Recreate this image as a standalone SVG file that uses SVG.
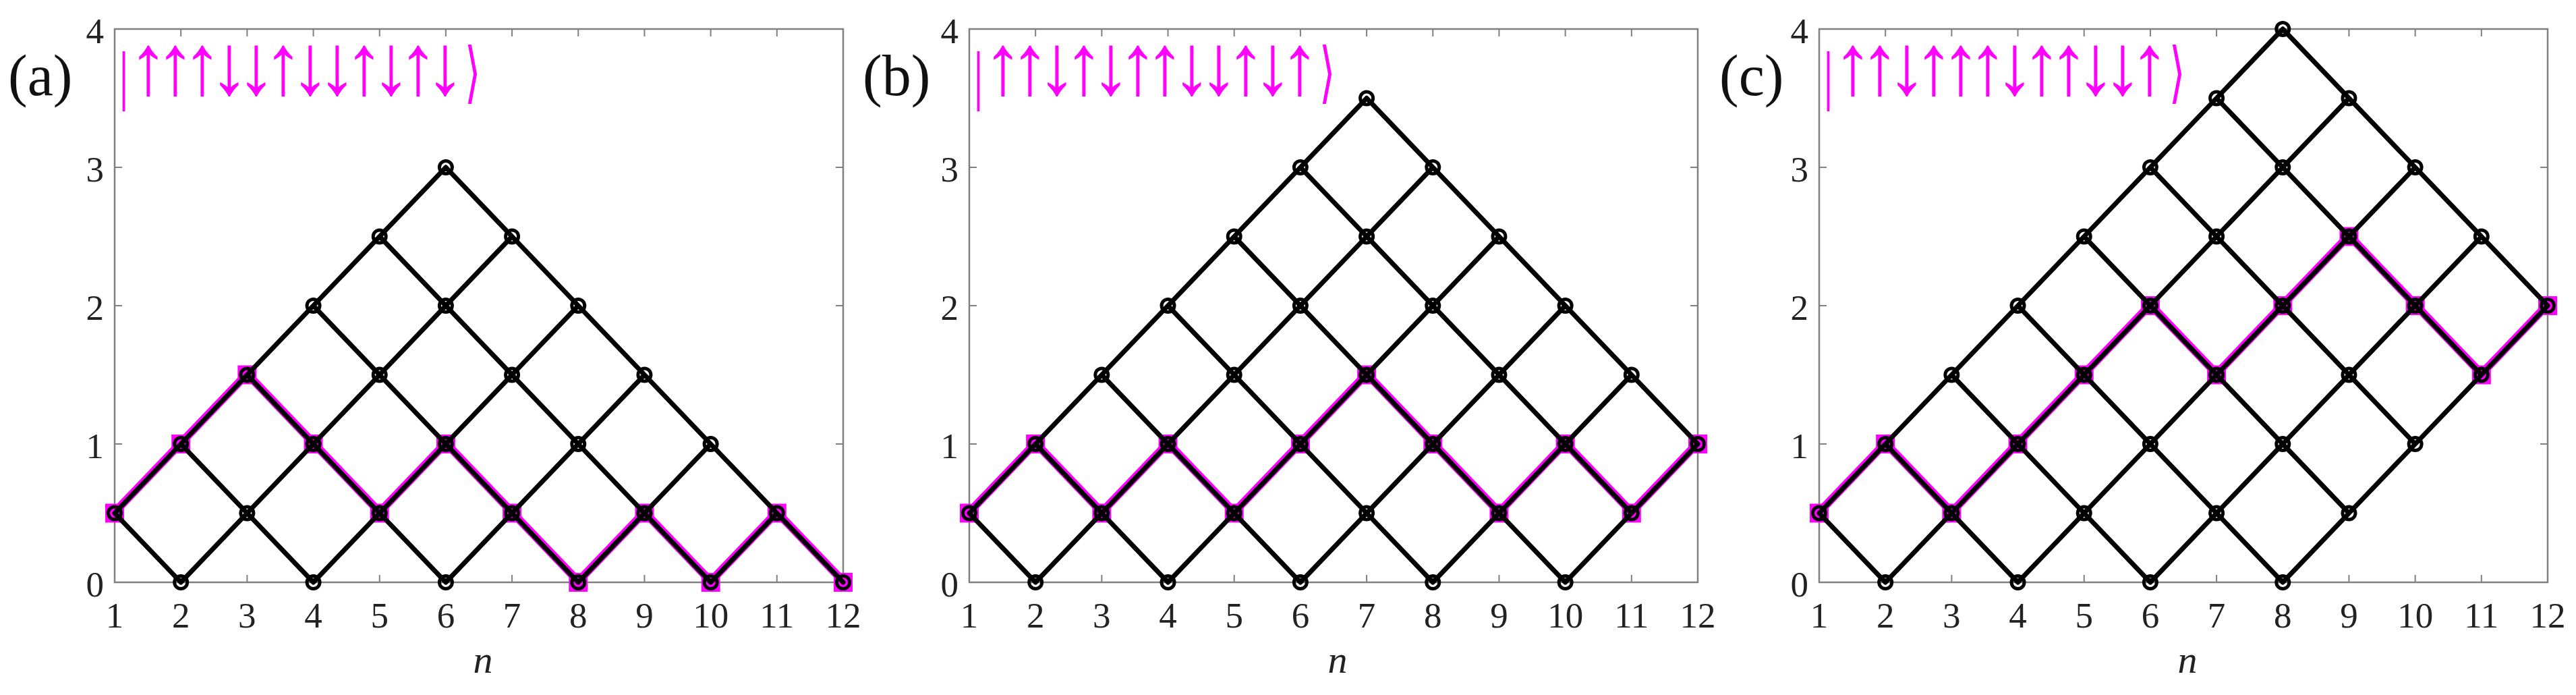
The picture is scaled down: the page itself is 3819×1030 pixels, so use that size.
<svg xmlns="http://www.w3.org/2000/svg" xmlns:xlink="http://www.w3.org/1999/xlink" width="3819" height="1030" viewBox="0 0 3819 1030">
<style>
.ax{fill:none;stroke:#808080;stroke-width:2.5}
.tk{fill:none;stroke:#808080;stroke-width:2}
.ed{fill:none;stroke:#000;stroke-width:7;stroke-linecap:round;stroke-linejoin:round}
.mg{fill:none;stroke:#f0f;stroke-width:12;stroke-linejoin:miter}
.tl{font-family:"Liberation Serif",serif;font-size:53px;fill:#222}
.nl{font-family:"Liberation Serif",serif;font-size:58px;font-style:italic;fill:#222}
.pl{font-family:"Liberation Serif",serif;font-size:86px;fill:#111}
.ket{font-family:"Liberation Serif","DejaVu Serif",serif;font-size:116px;fill:#f0f}
.bar{font-family:"Liberation Serif",serif;font-size:75px;fill:#f0f}
.ang{font-family:"DejaVu Sans",sans-serif;font-size:60px;fill:#f0f}
</style>
<defs>
<circle id="o" r="9.5" fill="none" stroke="#000" stroke-width="5"/>
<rect id="sq" x="-14" y="-14" width="28" height="28" fill="#f0f"/>
<g id="axfrm">
<rect class="ax" x="0" y="43" width="1080" height="820"/>
<path class="tk" d="M98.18 863v-11M196.36 863v-11M294.55 863v-11M392.73 863v-11M490.91 863v-11M589.09 863v-11M687.27 863v-11M785.45 863v-11M883.64 863v-11M981.82 863v-11M98.18 43v11M196.36 43v11M294.55 43v11M392.73 43v11M490.91 43v11M589.09 43v11M687.27 43v11M785.45 43v11M883.64 43v11M981.82 43v11M0 658h11M0 453h11M0 248h11M1080 658h-11M1080 453h-11M1080 248h-11"/>
<g class="tl" text-anchor="end">
<text x="-16" y="884">0</text><text x="-16" y="679">1</text><text x="-16" y="474">2</text><text x="-16" y="269">3</text><text x="-16" y="64">4</text>
</g>
<g class="tl" text-anchor="middle">
<text x="0" y="930">1</text><text x="98.18" y="930">2</text><text x="196.36" y="930">3</text><text x="294.55" y="930">4</text><text x="392.73" y="930">5</text><text x="490.91" y="930">6</text><text x="589.09" y="930">7</text><text x="687.27" y="930">8</text><text x="785.45" y="930">9</text><text x="883.64" y="930">10</text><text x="981.82" y="930">11</text><text x="1080" y="930">12</text>
</g>
<text class="nl" x="546" y="997" text-anchor="middle">n</text>
</g>
</defs>

<!-- Panel (a) -->
<g id="panel-a" transform="translate(170,0)">
<use href="#axfrm"/>
<text id="label-a" class="pl" x="-158" y="141">(a)</text>
<g id="ket-a">
<text class="bar" transform="translate(21,144) scale(1,1.3)" text-anchor="end">|</text>
<text class="ket" transform="translate(0,139) scale(1,1.1)" x="50 90 130 170 210 250 290 330 370 410 450 490" y="0" text-anchor="middle">↑↑↑↓↓↑↓↓↑↓↑↓</text>
<text class="ang" transform="translate(519,141) scale(1,1.65)">⟩</text>
</g>
<g id="path-a">
<path class="mg" transform="translate(0,-1.5)" d="M0 760.5L98.18 658L196.36 555.5L294.55 658L392.73 760.5L490.91 658L589.09 760.5L687.27 863L785.45 760.5L883.64 863L981.82 760.5L1080 863"/>
<use href="#sq" x="0" y="760.5"/><use href="#sq" x="98.18" y="658"/><use href="#sq" x="196.36" y="555.5"/><use href="#sq" x="294.55" y="658"/><use href="#sq" x="392.73" y="760.5"/><use href="#sq" x="490.91" y="658"/><use href="#sq" x="589.09" y="760.5"/><use href="#sq" x="687.27" y="863"/><use href="#sq" x="785.45" y="760.5"/><use href="#sq" x="883.64" y="863"/><use href="#sq" x="981.82" y="760.5"/><use href="#sq" x="1080" y="863"/>
</g>
<g id="connectors-a">
<path class="ed" d="M0 760.5L490.91 248M98.18 863L589.09 350.5M294.55 863L687.27 453M490.91 863L785.45 555.5M687.27 863L883.64 658M883.64 863L981.82 760.5M0 760.5L98.18 863M98.18 658L294.55 863M196.36 555.5L490.91 863M294.55 453L687.27 863M392.73 350.5L883.64 863M490.91 248L1080 863"/>
</g>
<g id="nodes-a">
<g id="a-1-05"><use href="#o" x="0" y="760.5"/></g>
<g id="a-2-0"><use href="#o" x="98.18" y="863"/></g>
<g id="a-2-1"><use href="#o" x="98.18" y="658"/></g>
<g id="a-3-05"><use href="#o" x="196.36" y="760.5"/></g>
<g id="a-3-15"><use href="#o" x="196.36" y="555.5"/></g>
<g id="a-4-0"><use href="#o" x="294.55" y="863"/></g>
<g id="a-4-1"><use href="#o" x="294.55" y="658"/></g>
<g id="a-4-2"><use href="#o" x="294.55" y="453"/></g>
<g id="a-5-05"><use href="#o" x="392.73" y="760.5"/></g>
<g id="a-5-15"><use href="#o" x="392.73" y="555.5"/></g>
<g id="a-5-25"><use href="#o" x="392.73" y="350.5"/></g>
<g id="a-6-0"><use href="#o" x="490.91" y="863"/></g>
<g id="a-6-1"><use href="#o" x="490.91" y="658"/></g>
<g id="a-6-2"><use href="#o" x="490.91" y="453"/></g>
<g id="a-6-3"><use href="#o" x="490.91" y="248"/></g>
<g id="a-7-05"><use href="#o" x="589.09" y="760.5"/></g>
<g id="a-7-15"><use href="#o" x="589.09" y="555.5"/></g>
<g id="a-7-25"><use href="#o" x="589.09" y="350.5"/></g>
<g id="a-8-0"><use href="#o" x="687.27" y="863"/></g>
<g id="a-8-1"><use href="#o" x="687.27" y="658"/></g>
<g id="a-8-2"><use href="#o" x="687.27" y="453"/></g>
<g id="a-9-05"><use href="#o" x="785.45" y="760.5"/></g>
<g id="a-9-15"><use href="#o" x="785.45" y="555.5"/></g>
<g id="a-10-0"><use href="#o" x="883.64" y="863"/></g>
<g id="a-10-1"><use href="#o" x="883.64" y="658"/></g>
<g id="a-11-05"><use href="#o" x="981.82" y="760.5"/></g>
<g id="a-12-0"><use href="#o" x="1080" y="863"/></g>
</g>
</g>

<!-- Panel (b) -->
<g id="panel-b" transform="translate(1437,0)">
<use href="#axfrm"/>
<text id="label-b" class="pl" x="-158" y="141">(b)</text>
<g id="ket-b">
<text class="bar" transform="translate(21,144) scale(1,1.3)" text-anchor="end">|</text>
<text class="ket" transform="translate(0,139) scale(1,1.1)" x="50 90 130 170 210 250 290 330 370 410 450 490" y="0" text-anchor="middle">↑↑↓↑↓↑↑↓↓↑↓↑</text>
<text class="ang" transform="translate(519,141) scale(1,1.65)">⟩</text>
</g>
<g id="path-b">
<path class="mg" transform="translate(0,-1.5)" d="M0 760.5L98.18 658L196.36 760.5L294.55 658L392.73 760.5L490.91 658L589.09 555.5L687.27 658L785.45 760.5L883.64 658L981.82 760.5L1080 658"/>
<use href="#sq" x="0" y="760.5"/><use href="#sq" x="98.18" y="658"/><use href="#sq" x="196.36" y="760.5"/><use href="#sq" x="294.55" y="658"/><use href="#sq" x="392.73" y="760.5"/><use href="#sq" x="490.91" y="658"/><use href="#sq" x="589.09" y="555.5"/><use href="#sq" x="687.27" y="658"/><use href="#sq" x="785.45" y="760.5"/><use href="#sq" x="883.64" y="658"/><use href="#sq" x="981.82" y="760.5"/><use href="#sq" x="1080" y="658"/>
</g>
<g id="connectors-b">
<path class="ed" d="M0 760.5L589.09 145.5M98.18 863L687.27 248M294.55 863L785.45 350.5M490.91 863L883.64 453M687.27 863L981.82 555.5M883.64 863L1080 658M0 760.5L98.18 863M98.18 658L294.55 863M196.36 555.5L490.91 863M294.55 453L687.27 863M392.73 350.5L883.64 863M490.91 248L981.82 760.5M589.09 145.5L1080 658"/>
</g>
<g id="nodes-b">
<g id="b-1-05"><use href="#o" x="0" y="760.5"/></g>
<g id="b-2-0"><use href="#o" x="98.18" y="863"/></g>
<g id="b-2-1"><use href="#o" x="98.18" y="658"/></g>
<g id="b-3-05"><use href="#o" x="196.36" y="760.5"/></g>
<g id="b-3-15"><use href="#o" x="196.36" y="555.5"/></g>
<g id="b-4-0"><use href="#o" x="294.55" y="863"/></g>
<g id="b-4-1"><use href="#o" x="294.55" y="658"/></g>
<g id="b-4-2"><use href="#o" x="294.55" y="453"/></g>
<g id="b-5-05"><use href="#o" x="392.73" y="760.5"/></g>
<g id="b-5-15"><use href="#o" x="392.73" y="555.5"/></g>
<g id="b-5-25"><use href="#o" x="392.73" y="350.5"/></g>
<g id="b-6-0"><use href="#o" x="490.91" y="863"/></g>
<g id="b-6-1"><use href="#o" x="490.91" y="658"/></g>
<g id="b-6-2"><use href="#o" x="490.91" y="453"/></g>
<g id="b-6-3"><use href="#o" x="490.91" y="248"/></g>
<g id="b-7-05"><use href="#o" x="589.09" y="760.5"/></g>
<g id="b-7-15"><use href="#o" x="589.09" y="555.5"/></g>
<g id="b-7-25"><use href="#o" x="589.09" y="350.5"/></g>
<g id="b-7-35"><use href="#o" x="589.09" y="145.5"/></g>
<g id="b-8-0"><use href="#o" x="687.27" y="863"/></g>
<g id="b-8-1"><use href="#o" x="687.27" y="658"/></g>
<g id="b-8-2"><use href="#o" x="687.27" y="453"/></g>
<g id="b-8-3"><use href="#o" x="687.27" y="248"/></g>
<g id="b-9-05"><use href="#o" x="785.45" y="760.5"/></g>
<g id="b-9-15"><use href="#o" x="785.45" y="555.5"/></g>
<g id="b-9-25"><use href="#o" x="785.45" y="350.5"/></g>
<g id="b-10-0"><use href="#o" x="883.64" y="863"/></g>
<g id="b-10-1"><use href="#o" x="883.64" y="658"/></g>
<g id="b-10-2"><use href="#o" x="883.64" y="453"/></g>
<g id="b-11-05"><use href="#o" x="981.82" y="760.5"/></g>
<g id="b-11-15"><use href="#o" x="981.82" y="555.5"/></g>
<g id="b-12-1"><use href="#o" x="1080" y="658"/></g>
</g>
</g>

<!-- Panel (c) -->
<g id="panel-c" transform="translate(2697,0)">
<use href="#axfrm"/>
<text id="label-c" class="pl" x="-148" y="141">(c)</text>
<g id="ket-c">
<text class="bar" transform="translate(21,144) scale(1,1.3)" text-anchor="end">|</text>
<text class="ket" transform="translate(0,139) scale(1,1.1)" x="50 90 130 170 210 250 290 330 370 410 450 490" y="0" text-anchor="middle">↑↑↓↑↑↑↓↑↑↓↓↑</text>
<text class="ang" transform="translate(519,141) scale(1,1.65)">⟩</text>
</g>
<g id="path-c">
<path class="mg" transform="translate(0,-1.5)" d="M0 760.5L98.18 658L196.36 760.5L294.55 658L392.73 555.5L490.91 453L589.09 555.5L687.27 453L785.45 350.5L883.64 453L981.82 555.5L1080 453"/>
<use href="#sq" x="0" y="760.5"/><use href="#sq" x="98.18" y="658"/><use href="#sq" x="196.36" y="760.5"/><use href="#sq" x="294.55" y="658"/><use href="#sq" x="392.73" y="555.5"/><use href="#sq" x="490.91" y="453"/><use href="#sq" x="589.09" y="555.5"/><use href="#sq" x="687.27" y="453"/><use href="#sq" x="785.45" y="350.5"/><use href="#sq" x="883.64" y="453"/><use href="#sq" x="981.82" y="555.5"/><use href="#sq" x="1080" y="453"/>
</g>
<g id="connectors-c">
<path class="ed" d="M0 760.5L687.27 43M98.18 863L785.45 145.5M294.55 863L883.64 248M490.91 863L981.82 350.5M687.27 863L1080 453M0 760.5L98.18 863M98.18 658L294.55 863M196.36 555.5L490.91 863M294.55 453L687.27 863M392.73 350.5L785.45 760.5M490.91 248L883.64 658M589.09 145.5L981.82 555.5M687.27 43L1080 453"/>
</g>
<g id="nodes-c">
<g id="c-1-05"><use href="#o" x="0" y="760.5"/></g>
<g id="c-2-0"><use href="#o" x="98.18" y="863"/></g>
<g id="c-2-1"><use href="#o" x="98.18" y="658"/></g>
<g id="c-3-05"><use href="#o" x="196.36" y="760.5"/></g>
<g id="c-3-15"><use href="#o" x="196.36" y="555.5"/></g>
<g id="c-4-0"><use href="#o" x="294.55" y="863"/></g>
<g id="c-4-1"><use href="#o" x="294.55" y="658"/></g>
<g id="c-4-2"><use href="#o" x="294.55" y="453"/></g>
<g id="c-5-05"><use href="#o" x="392.73" y="760.5"/></g>
<g id="c-5-15"><use href="#o" x="392.73" y="555.5"/></g>
<g id="c-5-25"><use href="#o" x="392.73" y="350.5"/></g>
<g id="c-6-0"><use href="#o" x="490.91" y="863"/></g>
<g id="c-6-1"><use href="#o" x="490.91" y="658"/></g>
<g id="c-6-2"><use href="#o" x="490.91" y="453"/></g>
<g id="c-6-3"><use href="#o" x="490.91" y="248"/></g>
<g id="c-7-05"><use href="#o" x="589.09" y="760.5"/></g>
<g id="c-7-15"><use href="#o" x="589.09" y="555.5"/></g>
<g id="c-7-25"><use href="#o" x="589.09" y="350.5"/></g>
<g id="c-7-35"><use href="#o" x="589.09" y="145.5"/></g>
<g id="c-8-0"><use href="#o" x="687.27" y="863"/></g>
<g id="c-8-1"><use href="#o" x="687.27" y="658"/></g>
<g id="c-8-2"><use href="#o" x="687.27" y="453"/></g>
<g id="c-8-3"><use href="#o" x="687.27" y="248"/></g>
<g id="c-8-4"><use href="#o" x="687.27" y="43"/></g>
<g id="c-9-05"><use href="#o" x="785.45" y="760.5"/></g>
<g id="c-9-15"><use href="#o" x="785.45" y="555.5"/></g>
<g id="c-9-25"><use href="#o" x="785.45" y="350.5"/></g>
<g id="c-9-35"><use href="#o" x="785.45" y="145.5"/></g>
<g id="c-10-1"><use href="#o" x="883.64" y="658"/></g>
<g id="c-10-2"><use href="#o" x="883.64" y="453"/></g>
<g id="c-10-3"><use href="#o" x="883.64" y="248"/></g>
<g id="c-11-15"><use href="#o" x="981.82" y="555.5"/></g>
<g id="c-11-25"><use href="#o" x="981.82" y="350.5"/></g>
<g id="c-12-2"><use href="#o" x="1080" y="453"/></g>
</g>
</g>
</svg>
